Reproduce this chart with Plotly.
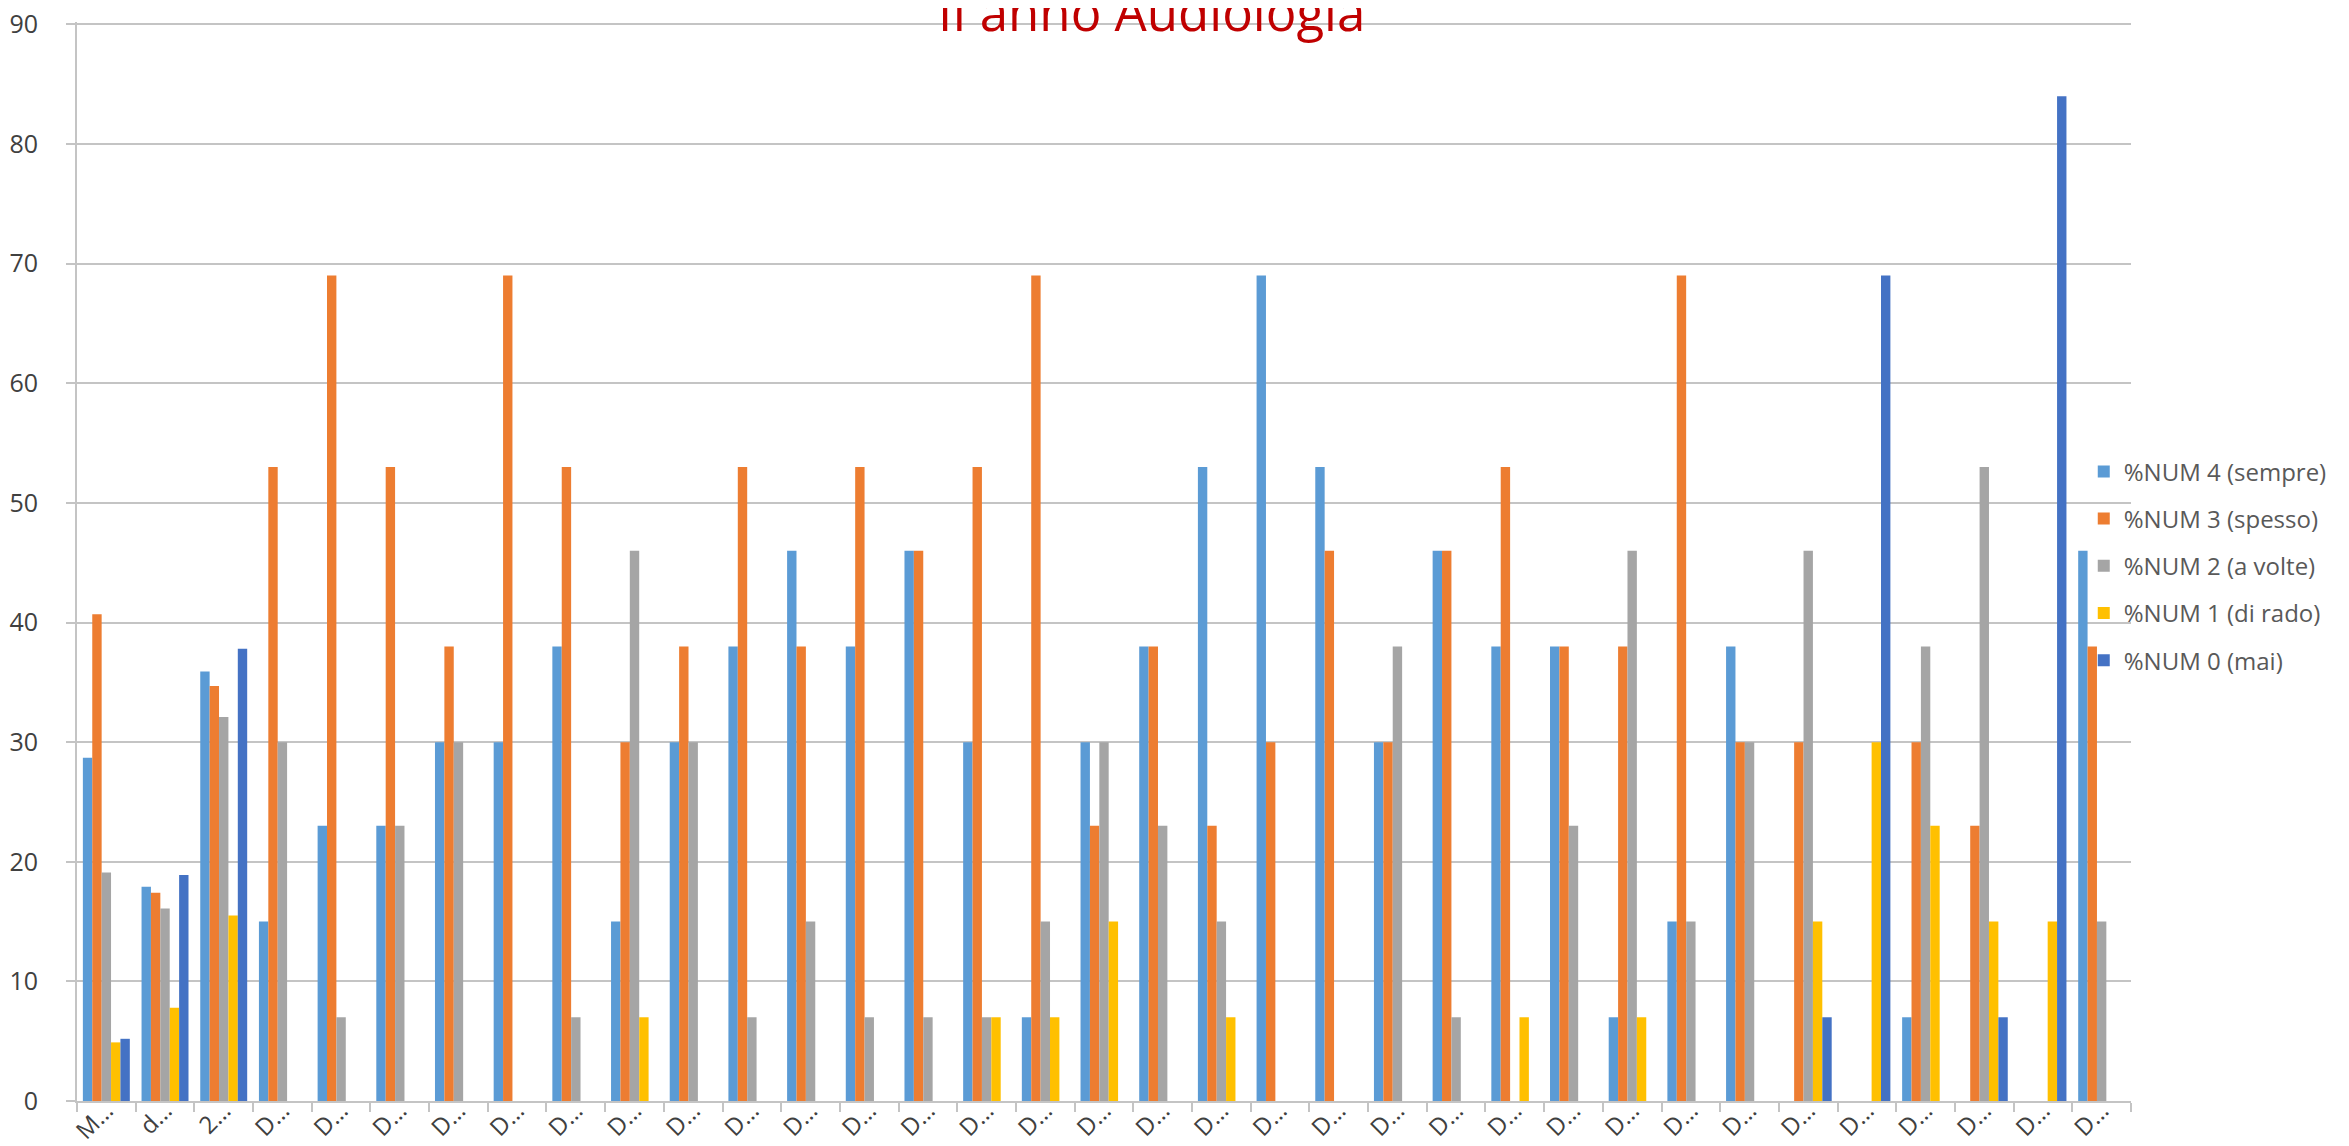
import plotly.graph_objects as go

# category labels as shown (truncated) on the x axis
labels = ["M…", "d…", "2…"] + ["D…"] * 32

series_names = ["%NUM 4 (sempre)", "%NUM 3 (spesso)", "%NUM 2 (a volte)",
                "%NUM 1 (di rado)", "%NUM 0 (mai)"]
colors = ["#5B9BD5", "#ED7D31", "#A5A5A5", "#FFC000", "#4472C4"]

sempre = [28.7, 17.9, 35.9, 15, 23, 23, 30, 30, 38, 15, 30, 38, 46, 38, 46, 30, 7, 30,
          38, 53, 69, 53, 30, 46, 38, 38, 7, 15, 38, 0, 0, 7, 0, 0, 46]
spesso = [40.7, 17.4, 34.7, 53, 69, 53, 38, 69, 53, 30, 38, 53, 38, 53, 46, 53, 69, 23,
          38, 23, 30, 46, 30, 46, 53, 38, 38, 69, 30, 30, 0, 30, 23, 0, 38]
a_volte = [19.1, 16.1, 32.1, 30, 7, 23, 30, 0, 7, 46, 30, 7, 15, 7, 7, 7, 15, 30,
           23, 15, 0, 0, 38, 7, 0, 23, 46, 15, 30, 46, 0, 38, 53, 0, 15]
di_rado = [4.9, 7.8, 15.5, 0, 0, 0, 0, 0, 0, 7, 0, 0, 0, 0, 0, 7, 7, 15,
           0, 7, 0, 0, 0, 0, 7, 0, 7, 0, 0, 15, 30, 23, 15, 15, 0]
mai = [5.2, 18.9, 37.8, 0, 0, 0, 0, 0, 0, 0, 0, 0, 0, 0, 0, 0, 0, 0,
       0, 0, 0, 0, 0, 0, 0, 0, 0, 0, 0, 7, 69, 0, 7, 84, 0]

y_ticks = [0, 10, 20, 30, 40, 50, 60, 70, 80, 90]

values = [sempre, spesso, a_volte, di_rado, mai]
x = list(range(len(labels)))

fig = go.Figure()
for name, col, vals in zip(series_names, colors, values):
    fig.add_trace(go.Bar(x=x, y=vals, name=name, marker_color=col,
                         marker_line_width=0, legendgroup=name))

grid = "#C4C4C4"
fig.update_layout(
    width=2349, height=1146,
    plot_bgcolor="white", paper_bgcolor="white",
    barmode="group", bargap=0.2, bargroupgap=0,
    margin=dict(l=69, r=226, t=14, b=53, autoexpand=False),
    font=dict(family="Open Sans", size=24, color="#595959"),
    legend=dict(x=0.977, xref="paper", xanchor="left", y=0.604, yanchor="top",
                font=dict(size=24, color="#595959"), tracegroupgap=13,
                bgcolor="rgba(0,0,0,0)"),
    annotations=[dict(text="II anno Audiologia", x=0.523, xref="paper",
                      y=1.01, yref="paper", xanchor="center", yanchor="middle",
                      showarrow=False,
                      font=dict(family="Open Sans", size=51, color="#C00000"))],
)
fig.update_xaxes(type="category", tickmode="array", tickvals=x, ticktext=labels,
                 tickson="boundaries", ticks="outside", ticklen=9, tickcolor=grid,
                 tickwidth=2, showline=True, linecolor=grid, linewidth=2,
                 showgrid=False, tickangle=-45, automargin=False,
                 ticklabelstandoff=-16,
                 tickfont=dict(size=24, color="#404040"))
fig.update_yaxes(range=[0, 90.2], tickmode="array", tickvals=y_ticks,
                 ticklabeloverflow="allow", ticklabelstandoff=23,
                 showgrid=True, gridcolor=grid, gridwidth=2,
                 ticks="outside", ticklen=9, tickcolor=grid, tickwidth=2,
                 showline=True, linecolor=grid, linewidth=2, zeroline=False,
                 automargin=False,
                 tickfont=dict(size=25, color="#404040"))

fig.write_html("out.html")
